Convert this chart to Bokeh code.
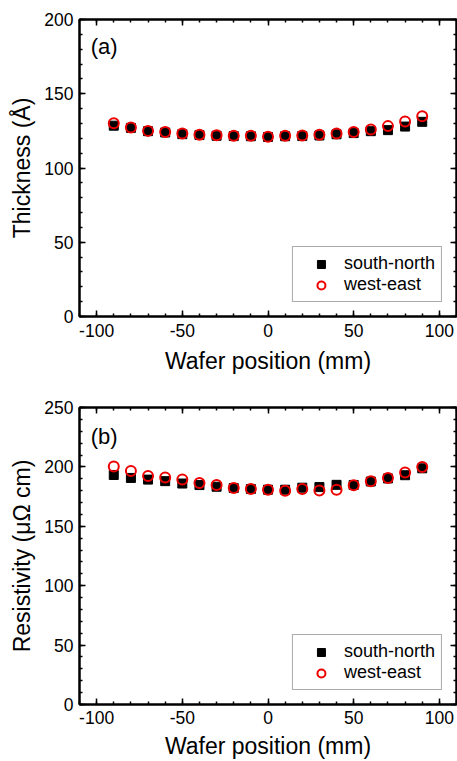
from bokeh.plotting import figure
from bokeh.models import LinearAxis, Label, Range1d, FixedTicker
from bokeh.layouts import column
from bokeh.embed import file_html
from bokeh.resources import INLINE

# ---- data ----
positions = [-90, -80, -70, -60, -50, -40, -30, -20, -10, 0, 10, 20, 30, 40, 50, 60, 70, 80, 90]

thickness_sn = [128.5, 127.0, 124.8, 123.9, 122.8, 122.2, 121.7, 121.5, 121.4, 120.9,
                121.4, 121.5, 121.9, 122.7, 123.5, 124.8, 125.5, 127.9, 131.1]
thickness_we = [130.2, 127.3, 125.0, 124.2, 123.2, 122.4, 122.0, 121.7, 121.7, 121.1,
                121.7, 121.9, 122.4, 123.3, 124.3, 125.9, 128.2, 131.3, 134.9]

resist_sn = [193.2, 190.7, 189.3, 188.0, 186.0, 184.7, 183.3, 182.2, 181.4, 180.8,
             180.8, 182.5, 183.0, 184.9, 184.8, 187.7, 190.3, 193.0, 198.8]
resist_we = [200.3, 196.6, 192.4, 191.0, 189.3, 186.4, 184.7, 182.2, 181.4, 180.8,
             180.0, 181.4, 180.2, 180.8, 184.5, 187.9, 190.7, 195.2, 200.0]

x_major = [-100, -50, 0, 50, 100]
x_major_labels = ["-100", "-50", "0", "50", "100"]
x_minor = list(range(-110, 111, 10))
y_major_a = [0, 50, 100, 150, 200]
y_minor_a = list(range(0, 201, 10))
y_major_b = [0, 50, 100, 150, 200, 250]
y_minor_b = list(range(0, 251, 10))

series_names = ["south-north", "west-east"]
FONT = "Liberation Sans"


def style_axis(ax, labels=True):
    ax.axis_line_width = 2
    ax.axis_line_color = "black"
    ax.major_tick_in = 6
    ax.major_tick_out = 0
    ax.minor_tick_in = 3
    ax.minor_tick_out = 0
    ax.major_tick_line_width = 1.5
    ax.minor_tick_line_width = 1.5
    ax.major_tick_line_color = "black"
    ax.minor_tick_line_color = "black"
    if labels:
        ax.major_label_text_font = FONT
        ax.major_label_text_font_size = "17.5px"
        ax.major_label_text_color = "black"
        ax.axis_label_text_font = FONT
        ax.axis_label_text_font_size = "23px"
        ax.axis_label_text_font_style = "normal"
        ax.axis_label_text_color = "black"
    else:
        ax.major_label_text_font_size = "0px"
        ax.major_label_text_color = None
        ax.major_label_standoff = 0
        ax.axis_label = None


def make_panel(height, border_top, border_bottom, ymax, ymaj, ymin, ylabel,
               y_sn, y_we, tag, tag_y, xlab_standoff, xtick_standoff):
    p = figure(width=457, height=height,
               x_range=Range1d(-110, 110), y_range=Range1d(0, ymax),
               output_backend="svg", toolbar_location=None,
               min_border_left=79, min_border_right=1,
               min_border_top=border_top, min_border_bottom=border_bottom,
               x_axis_label="Wafer position (mm)", y_axis_label=ylabel)
    p.grid.visible = False
    p.outline_line_color = "black"
    p.outline_line_width = 2
    p.background_fill_color = "white"
    p.border_fill_color = "white"

    xt = FixedTicker(ticks=x_major, minor_ticks=x_minor)
    yt = FixedTicker(ticks=ymaj, minor_ticks=ymin)
    p.xaxis.ticker = xt
    p.yaxis.ticker = yt
    for ax in p.xaxis:
        style_axis(ax)
        ax.major_label_standoff = xtick_standoff
        ax.axis_label_standoff = xlab_standoff
        ax.major_label_overrides = dict(zip(x_major, x_major_labels))
    for ax in p.yaxis:
        style_axis(ax)
        ax.major_label_standoff = 6
        ax.axis_label_standoff = 6

    top = LinearAxis(ticker=FixedTicker(ticks=x_major, minor_ticks=x_minor))
    style_axis(top, labels=False)
    p.add_layout(top, "above")
    right = LinearAxis(ticker=FixedTicker(ticks=ymaj, minor_ticks=ymin))
    style_axis(right, labels=False)
    p.add_layout(right, "right")

    p.scatter(positions, y_sn, marker="square", size=9,
              fill_color="black", line_color="black", legend_label=series_names[0])
    p.scatter(positions, y_we, marker="circle", size=10, fill_color=None,
              line_color="#ee0000", line_width=2, legend_label=series_names[1])

    lg = p.legend[0]
    lg.location = "bottom_right"
    lg.margin = 14
    lg.padding = 6
    lg.spacing = 0
    lg.glyph_width = 44
    lg.glyph_height = 20
    lg.label_standoff = 1
    lg.label_height = 20
    lg.label_text_font = FONT
    lg.label_text_font_size = "18px"
    lg.label_text_color = "black"
    lg.border_line_color = "#555555"
    lg.border_line_width = 1
    lg.background_fill_color = "white"
    lg.background_fill_alpha = 1

    p.add_layout(Label(x=-103.5, y=tag_y, text=tag, text_font=FONT,
                       text_font_size="22px", text_baseline="middle",
                       text_align="left", text_color="black"))
    return p


pa = make_panel(393, 19, 77, 200, y_major_a, y_minor_a, "Thickness (Å)",
                thickness_sn, thickness_we, "(a)", 181.5, 8, 7)
pb = make_panel(368, 14, 57, 250, y_major_b, y_minor_b, "Resistivity (μΩ cm)",
                resist_sn, resist_we, "(b)", 225.5, 6, 6)

layout = column(pa, pb, spacing=0)
open("out.html", "w").write(file_html(layout, INLINE))
